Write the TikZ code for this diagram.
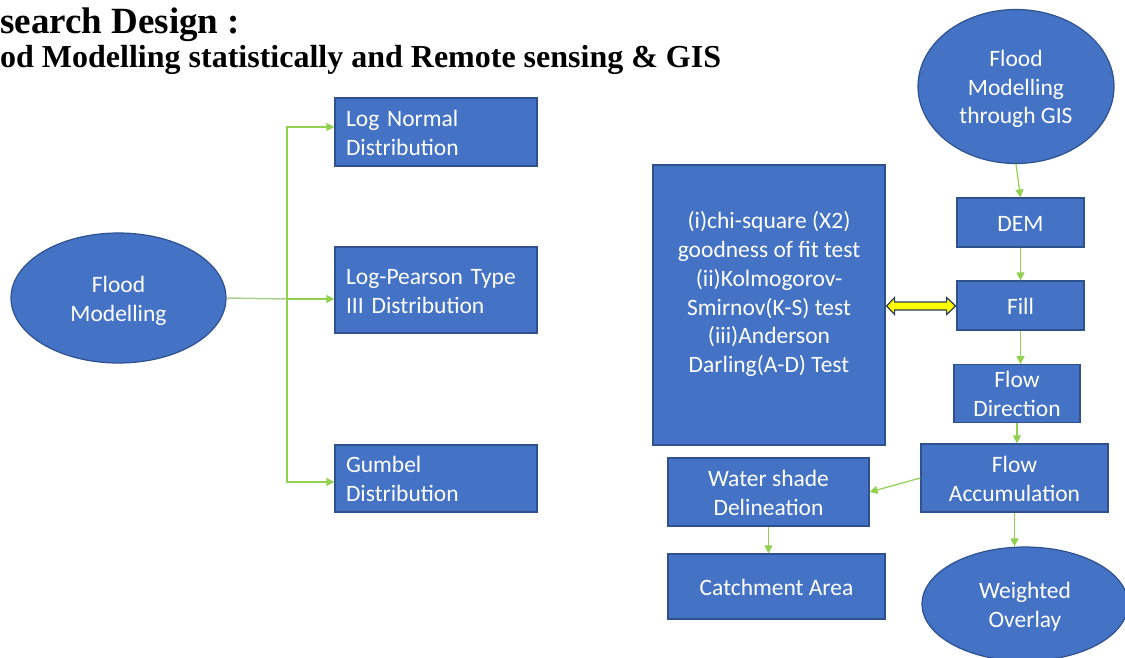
\documentclass[tikz,border=0pt]{standalone}
\usepackage{fontspec}
\setmainfont{Carlito}
\newfontfamily\titlefont{Liberation Serif}
\usetikzlibrary{shapes.geometric,arrows.meta,calc}
\definecolor{boxfill}{HTML}{4472C4}
\definecolor{boxline}{HTML}{2F528F}
\definecolor{arrgreen}{HTML}{92D050}
\definecolor{linegreen}{HTML}{A9D18E}
\definecolor{yel}{HTML}{FFFF00}
\definecolor{yline}{HTML}{2B3A55}
\newcommand\rs{\rule[-5.7pt]{0pt}{28.7pt}}
\tikzset{
  boxtext/.style={text=white, font=\fontsize{23.5}{28.7}\selectfont},
  blk/.style={boxtext, draw=boxline, fill=boxfill, line width=1.2pt, inner sep=0pt, align=center},
  lbox/.style={blk, minimum width=202pt, minimum height=68pt, text width=180pt, align=left},
  oval/.style={blk, ellipse},
  garr/.style={draw=arrgreen, line width=1.2pt, -{Triangle[length=8pt,width=8pt]}},
  gline/.style={draw=linegreen, line width=1.5pt},
  yarrow/.style={draw=yline, fill=yel, line width=1.2pt, line join=miter}
}
\begin{document}
\begin{tikzpicture}[x=1pt,y=-1pt]
\useasboundingbox (0,0) rectangle (1125,657);
% title
\node[anchor=base west, inner sep=0pt, font=\titlefont\bfseries\fontsize{37}{40}\selectfont] (t1) at (0,33) {search Design :};
\node[anchor=base west, inner sep=0pt, font=\titlefont\bfseries\fontsize{32}{36}\selectfont] (t2) at (0,67) {od Modelling statistically and Remote sensing \& GIS};
% left part
\node[oval, minimum width=215pt, minimum height=130pt] (fm) at (118.5,298) {\rs Flood\\\rs Modelling};
\node[lbox] (ln) at (436,132) {\rs Log Normal\\\rs Distribution};
\node[lbox, minimum height=86pt] (lp) at (436,290) {\rs Log-Pearson Type\\\rs III Distribution};
\node[lbox, minimum height=67pt] (gu) at (436,478.5) {\rs Gumbel\\\rs Distribution};
\coordinate (j) at (287,299);
\draw[gline] (fm.east) -- (j);
\draw[gline] (287,127) -- (287,482);
\draw[garr] (j) |- ([yshift=5pt]ln.west);
\draw[garr] (j) -- (lp.west |- j);
\draw[garr] (j) |- ([yshift=-3.5pt]gu.west);
% right part
\node[blk, minimum width=232pt, minimum height=280pt] (big) at (769,305) {};
\node[boxtext, align=center, inner sep=0pt] (bigtxt) at (769,292) {\rs(i)chi-square (X2)\\\rs goodness of fit test\\\rs(ii)Kolmogorov-\\\rs Smirnov(K-S) test\\\rs(iii)Anderson\\\rs Darling(A-D) Test};
\node[oval, minimum width=196pt, minimum height=154pt] (gis) at (1016,86.5) {\rs Flood\\\rs Modelling\\\rs through GIS};
\node[blk, minimum width=127pt, minimum height=49pt] (dem) at (1020.5,222.5) {\rs DEM};
\node[blk, minimum width=127pt, minimum height=49pt] (fill) at (1020.5,305.5) {\rs Fill};
\node[blk, minimum width=126pt, minimum height=57pt] (fd) at (1017,393.5) {\rs Flow\\\rs Direction};
\node[blk, minimum width=187pt, minimum height=68pt] (fa) at (1014.5,478) {\rs Flow\\\rs Accumulation};
\node[blk, minimum width=201pt, minimum height=68pt] (ws) at (768.5,492) {\rs Water shade\\\rs Delineation};
\node[blk, minimum width=217pt, minimum height=65pt] (ca) at (776.5,586.5) {\rs Catchment Area};
\node[oval, minimum width=206pt, minimum height=114pt] (wo) at (1025,604) {\rs Weighted\\\rs Overlay};
\draw[garr] (gis.south) -- (dem.north);
\draw[garr] (dem.south) -- (fill.north);
\draw[garr] (fill.south) -- (fd.north -| fill.south);
\draw[garr] (fd.south) -- (fa.north -| fd.south);
\draw[garr] (fa.west) -- (ws.east);
\draw[garr] (ws.south) -- (ca.north -| ws.south);
\draw[garr] (fa.south) -- (wo.north -| fa.south);
% yellow double arrow
\draw[yarrow] ([xshift=1pt,yshift=-1pt]big.east) -- ++(8,-8.5) -- ++(0,4.5) -- ++(52,0) -- ++(0,-4.5) -- ++(9,8.5) -- ++(-9,8.5) -- ++(0,-4.5) -- ++(-52,0) -- ++(0,4.5) -- cycle;
\end{tikzpicture}
\end{document}
